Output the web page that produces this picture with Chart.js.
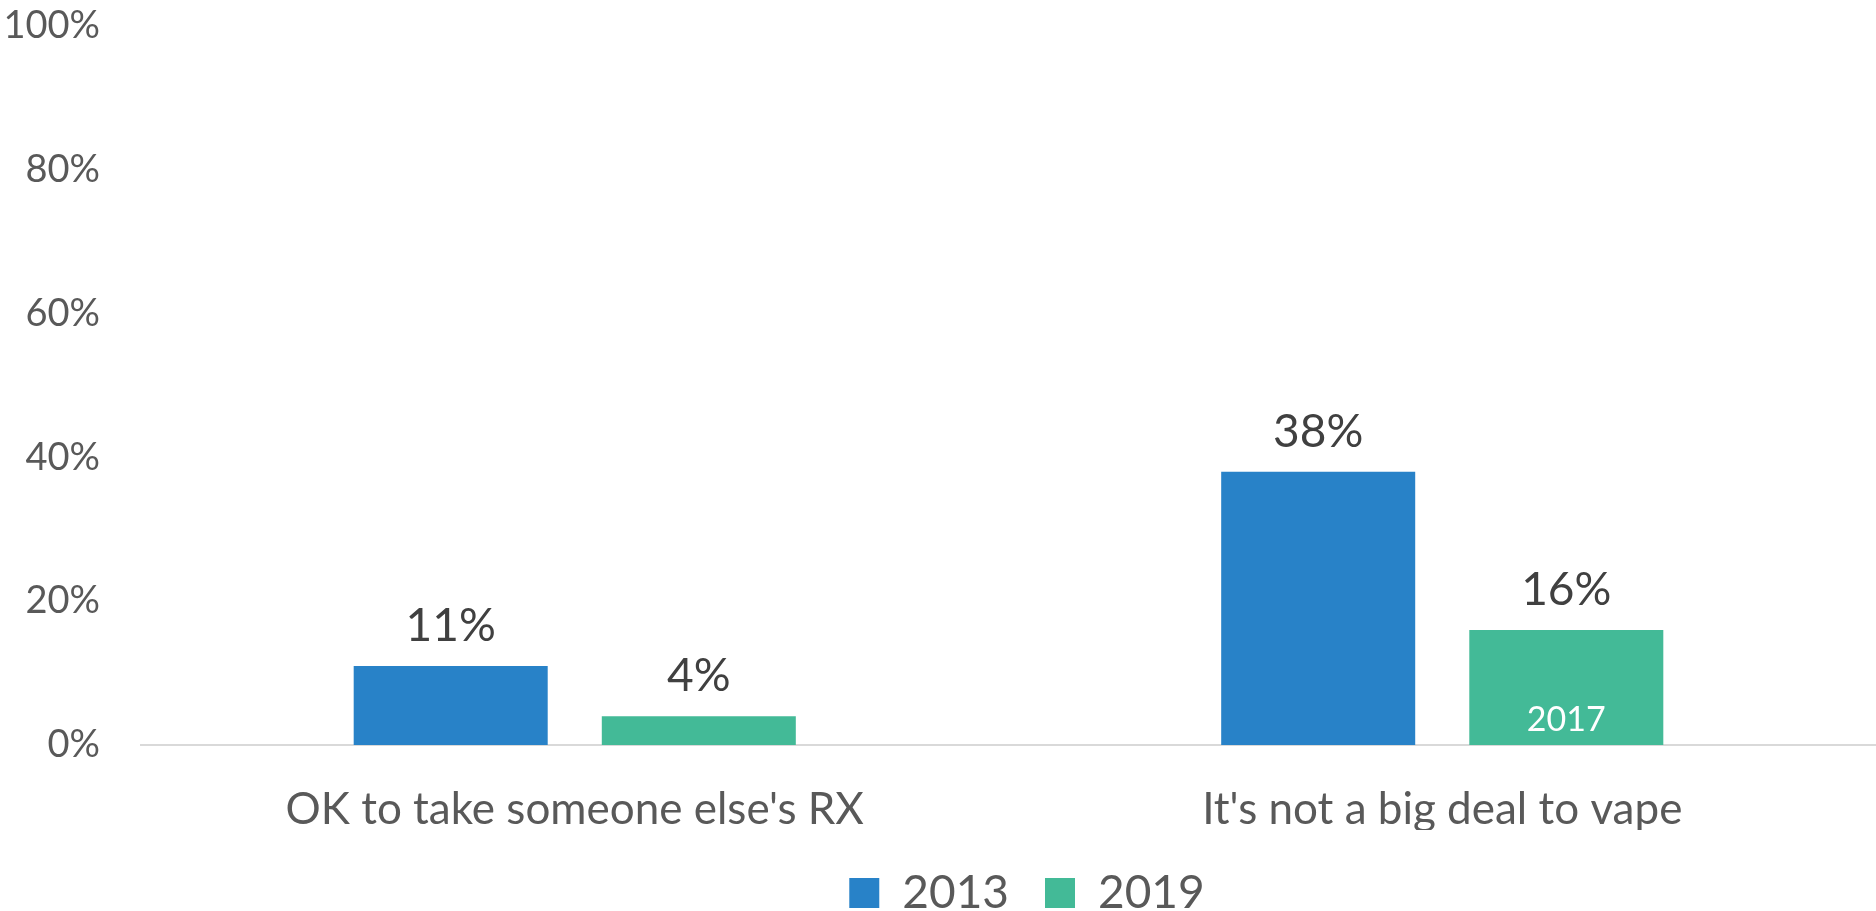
<!DOCTYPE html>
<html>
<head>
<meta charset="utf-8">
<script src="https://cdn.jsdelivr.net/npm/chart.js@4"></script>
<style>
  html, body { margin: 0; padding: 0; background: #fff; }
  #wrap { width: 1876px; height: 911px; }
</style>
</head>
<body>
<div id="wrap"><canvas id="myChart"></canvas></div>
<script>
const categories = ["OK to take someone else's RX", "It's not a big deal to vape"];
const years = ['2013', '2019'];
const values2013 = [11, 38];
const values2019 = [4, 16];
const tickLabels = ['0%', '20%', '40%', '60%', '80%', '100%'];
// the vape figure in the second series is from 2017
const barNotes2019 = ['', '2017'];

const FONT = 'Lato, "Open Sans", sans-serif';

// value labels above each bar, plus the small note inside a bar
const barLabels = {
    id: 'barLabels',
    afterDatasetsDraw(chart) {
        const ctx = chart.ctx;
        ctx.save();
        chart.data.datasets.forEach((ds, di) => {
            chart.getDatasetMeta(di).data.forEach((bar, i) => {
                ctx.textAlign = 'center';
                ctx.textBaseline = 'alphabetic';
                ctx.fillStyle = '#404040';
                ctx.font = '46px ' + FONT;
                ctx.fillText(ds.data[i] + '%', bar.x, bar.y - 25);
                if (ds.notes && ds.notes[i]) {
                    ctx.fillStyle = '#ffffff';
                    ctx.font = '34px ' + FONT;
                    ctx.fillText(ds.notes[i], bar.x, bar.base - 14);
                }
            });
        });
        ctx.restore();
    }
};

// fixed legend height, legend centred a bit right of the canvas middle
const legendFit = {
    id: 'legendFit',
    beforeInit(chart) {
        const fit = chart.legend.fit;
        chart.legend.fit = function () {
            fit.bind(chart.legend)();
            this.height = 81;
        };
    },
    afterLayout(chart) {
        chart.legend.left += 89;
        chart.legend.right += 89;
        chart.legend.top += 4;
        chart.legend.bottom += 4;
    }
};

const ctx = document.getElementById('myChart').getContext('2d');
new Chart(ctx, {
    type: 'bar',
    data: {
        labels: categories,
        datasets: [
            {
                label: years[0],
                backgroundColor: '#2882c8',
                data: values2013
            },
            {
                label: years[1],
                backgroundColor: '#43ba97',
                data: values2019,
                notes: barNotes2019
            }
        ]
    },
    options: {
        responsive: true,
        maintainAspectRatio: false,
        animation: false,
        categoryPercentage: 0.572,
        barPercentage: 0.782,
        layout: { padding: { top: 26, right: 0, left: 0, bottom: 0 } },
        plugins: {
            tooltip: { enabled: false },
            legend: {
                position: 'bottom',
                labels: {
                    boxWidth: 30,
                    boxHeight: 30,
                    padding: 36,
                    color: '#595959',
                    font: { family: FONT, size: 46 }
                }
            }
        },
        scales: {
            x: {
                afterFit(scale) {
                    scale.height = 85;
                    scale.paddingLeft = 0;
                    scale.paddingRight = 0;
                },
                grid: { display: false, drawTicks: false },
                border: { display: true, color: '#d9d9d9', width: 2 },
                ticks: {
                    color: '#595959',
                    padding: 38,
                    maxRotation: 0,
                    font: { family: FONT, size: 44 }
                }
            },
            y: {
                min: 0,
                max: 100,
                afterFit(scale) {
                    scale.width = 141;
                    scale.paddingTop = 0;
                    scale.paddingBottom = 0;
                },
                afterBuildTicks(scale) {
                    scale.ticks = tickLabels.map(t => ({ value: parseInt(t, 10) }));
                },
                grid: { display: false, drawTicks: false },
                border: { display: false },
                ticks: {
                    color: '#595959',
                    padding: 41,
                    font: { family: FONT, size: 38 },
                    callback: (v) => v + '%'
                }
            }
        }
    },
    plugins: [barLabels, legendFit]
});
</script>
</body>
</html>
